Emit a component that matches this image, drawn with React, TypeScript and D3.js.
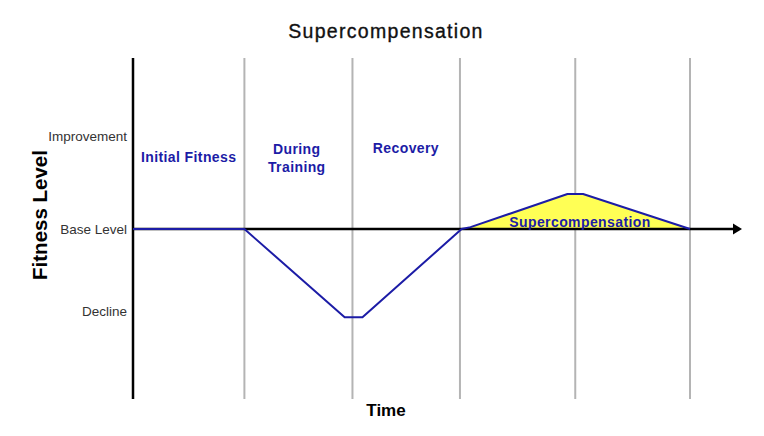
import React from "react";
import * as d3 from "d3";

const title = "Supercompensation";
const xAxisLabel = "Time";
const yAxisLabel = "Fitness Level";
const levelLabels = ["Improvement", "Base Level", "Decline"];
const levelValues = [1.0, 0, -0.88];
const phaseBoundaries = [1, 1.97, 2.935, 3.97, 5];
const phaseLabels = [["Initial Fitness"], ["During", "Training"], ["Recovery"]];
const phaseCenters = [0.5, 1.47, 2.45];
const curveTime = [0, 1, 1.9, 2.06, 2.95, 3.03, 3.9, 4.04, 5];
const curveFitness = [0, 0, -0.95, -0.95, 0, 0.02, 0.376, 0.376, 0];
const superStartIndex = 4;
const superLabel = "Supercompensation";

const W = 764, H = 436;

export default function App() {
  const x = d3.scaleLinear().domain([0, 5]).range([133, 690]);
  const y = d3.scaleLinear().domain([0, 1]).range([229, 136]);
  const pts: [number, number][] = curveTime.map((t, i) => [t, curveFitness[i]]);
  const line = d3.line<[number, number]>().x(d => x(d[0])).y(d => y(d[1]));
  const area = d3.area<[number, number]>().x(d => x(d[0])).y0(y(0)).y1(d => y(d[1]));
  const superPts = pts.slice(superStartIndex);
  const top = 58, bottom = 399;
  const blue = "#1c1ca6";
  const font = "'Liberation Sans', Arial, sans-serif";
  return (
    <svg width={W} height={H} style={{ position: "absolute", left: 0, top: 0, background: "#fff" }} fontFamily={font}>
      <text x={386} y={38} textAnchor="middle" fontSize={19.5} letterSpacing={1.3} fill="#111" stroke="#111" strokeWidth={0.35}>{title}</text>
      {phaseBoundaries.map((b, i) => (
        <line key={i} x1={x(b)} x2={x(b)} y1={top} y2={bottom} stroke="#b4b4b4" strokeWidth={2} />
      ))}
      <path d={area(superPts) || ""} fill="#ffff55" />
      <line x1={x(0)} x2={734} y1={y(0)} y2={y(0)} stroke="#000" strokeWidth={2.5} />
      <path d={`M733,${y(0) - 5.5} L742,${y(0)} L733,${y(0) + 5.5} Z`} fill="#000" />
      <line x1={x(0)} x2={x(0)} y1={top} y2={bottom} stroke="#000" strokeWidth={2.5} />
      <path d={line(pts) || ""} fill="none" stroke={blue} strokeWidth={2} strokeLinejoin="round" />
      {levelLabels.map((l, i) => (
        <text key={l} x={127} y={y(levelValues[i]) + 5} textAnchor="end" fontSize={13.5} fill="#333">{l}</text>
      ))}
      <text transform={`translate(47,${y(0) - 14}) rotate(-90)`} textAnchor="middle" fontSize={20.5} fontWeight="bold" fill="#000">{yAxisLabel}</text>
      <text x={386} y={416} textAnchor="middle" fontSize={17} fontWeight="bold" fill="#000">{xAxisLabel}</text>
      {phaseLabels.map((ls, i) => (
        <text key={i} textAnchor="middle" fontSize={14} fontWeight="bold" fill={blue} letterSpacing={0.4}>
          {ls.map((s, j) => (
            <tspan key={j} x={x(phaseCenters[i])} y={(ls.length > 1 ? 154 : i === 0 ? 162 : 153) + j * 18}>{s}</tspan>
          ))}
        </text>
      ))}
      <text x={580} y={227} textAnchor="middle" fontSize={14} fontWeight="bold" fill={blue} letterSpacing={0.4}>{superLabel}</text>
    </svg>
  );
}
